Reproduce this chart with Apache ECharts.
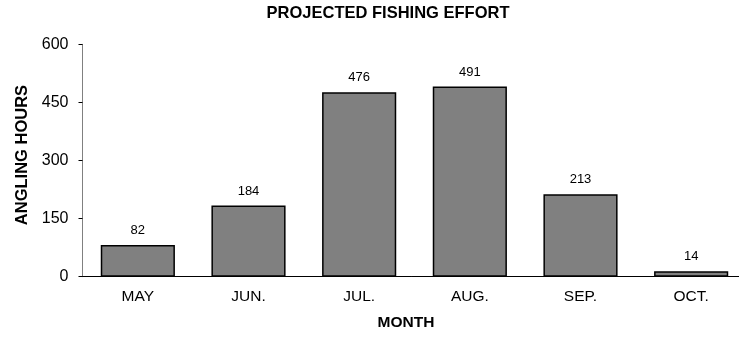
<!DOCTYPE html>
<html><head><meta charset="utf-8">
<script src="https://cdn.jsdelivr.net/npm/echarts@6/dist/echarts.min.js"></script>
<style>html,body{margin:0;padding:0;background:#fff}#c{width:739px;height:337px}</style>
</head><body><div id="c"></div>
<script>
const categories = ['MAY', 'JUN.', 'JUL.', 'AUG.', 'SEP.', 'OCT.'];
const hours = [82, 184, 476, 491, 213, 14];
const yTicks = [0, 150, 300, 450, 600];

const chart = echarts.init(document.getElementById('c'), null, {renderer: 'canvas'});
const F = 'Liberation Sans, Arial, sans-serif';
chart.setOption({
  animation: false,
  backgroundColor: '#fff',
  grid: {left: 82.5, width: 664, top: 44.3, height: 232.4, containLabel: false, outerBoundsMode: 'none'},
  graphic: [
    {type: 'text', style: {text: 'PROJECTED FISHING EFFORT', font: 'bold 16.5px ' + F, fill: '#000', x: 388, y: 13, textAlign: 'center', textVerticalAlign: 'middle'}},
    {type: 'text', style: {text: 'MONTH', font: 'bold 15.5px ' + F, fill: '#000', x: 406, y: 323, textAlign: 'center', textVerticalAlign: 'middle'}},
    {type: 'text', rotation: Math.PI / 2, x: 22, y: 155, style: {text: 'ANGLING HOURS', font: 'bold 16.5px ' + F, fill: '#000', x: 0, y: 0, textAlign: 'center', textVerticalAlign: 'middle'}}
  ],
  xAxis: {
    type: 'category', data: categories,
    axisLine: {lineStyle: {color: '#000', width: 1}},
    axisTick: {inside: true, length: 5, lineStyle: {color: '#000'}},
    axisLabel: {color: '#000', fontSize: 15.5, fontFamily: F, margin: 12}
  },
  yAxis: {
    type: 'value', min: yTicks[0], max: yTicks[yTicks.length - 1], interval: 150,
    splitLine: {show: false},
    axisLine: {show: true, lineStyle: {color: '#808080', width: 1}},
    axisTick: {show: true, length: 4, lineStyle: {color: '#000'}},
    axisLabel: {color: '#000', fontSize: 16, fontFamily: F, margin: 14}
  },
  series: [{
    type: 'bar', data: hours, barWidth: '67%',
    itemStyle: {color: '#808080', borderColor: '#000', borderWidth: 1.5},
    label: {show: true, position: 'top', distance: 8, color: '#000', fontSize: 13, fontFamily: F}
  }]
});
</script></body></html>
